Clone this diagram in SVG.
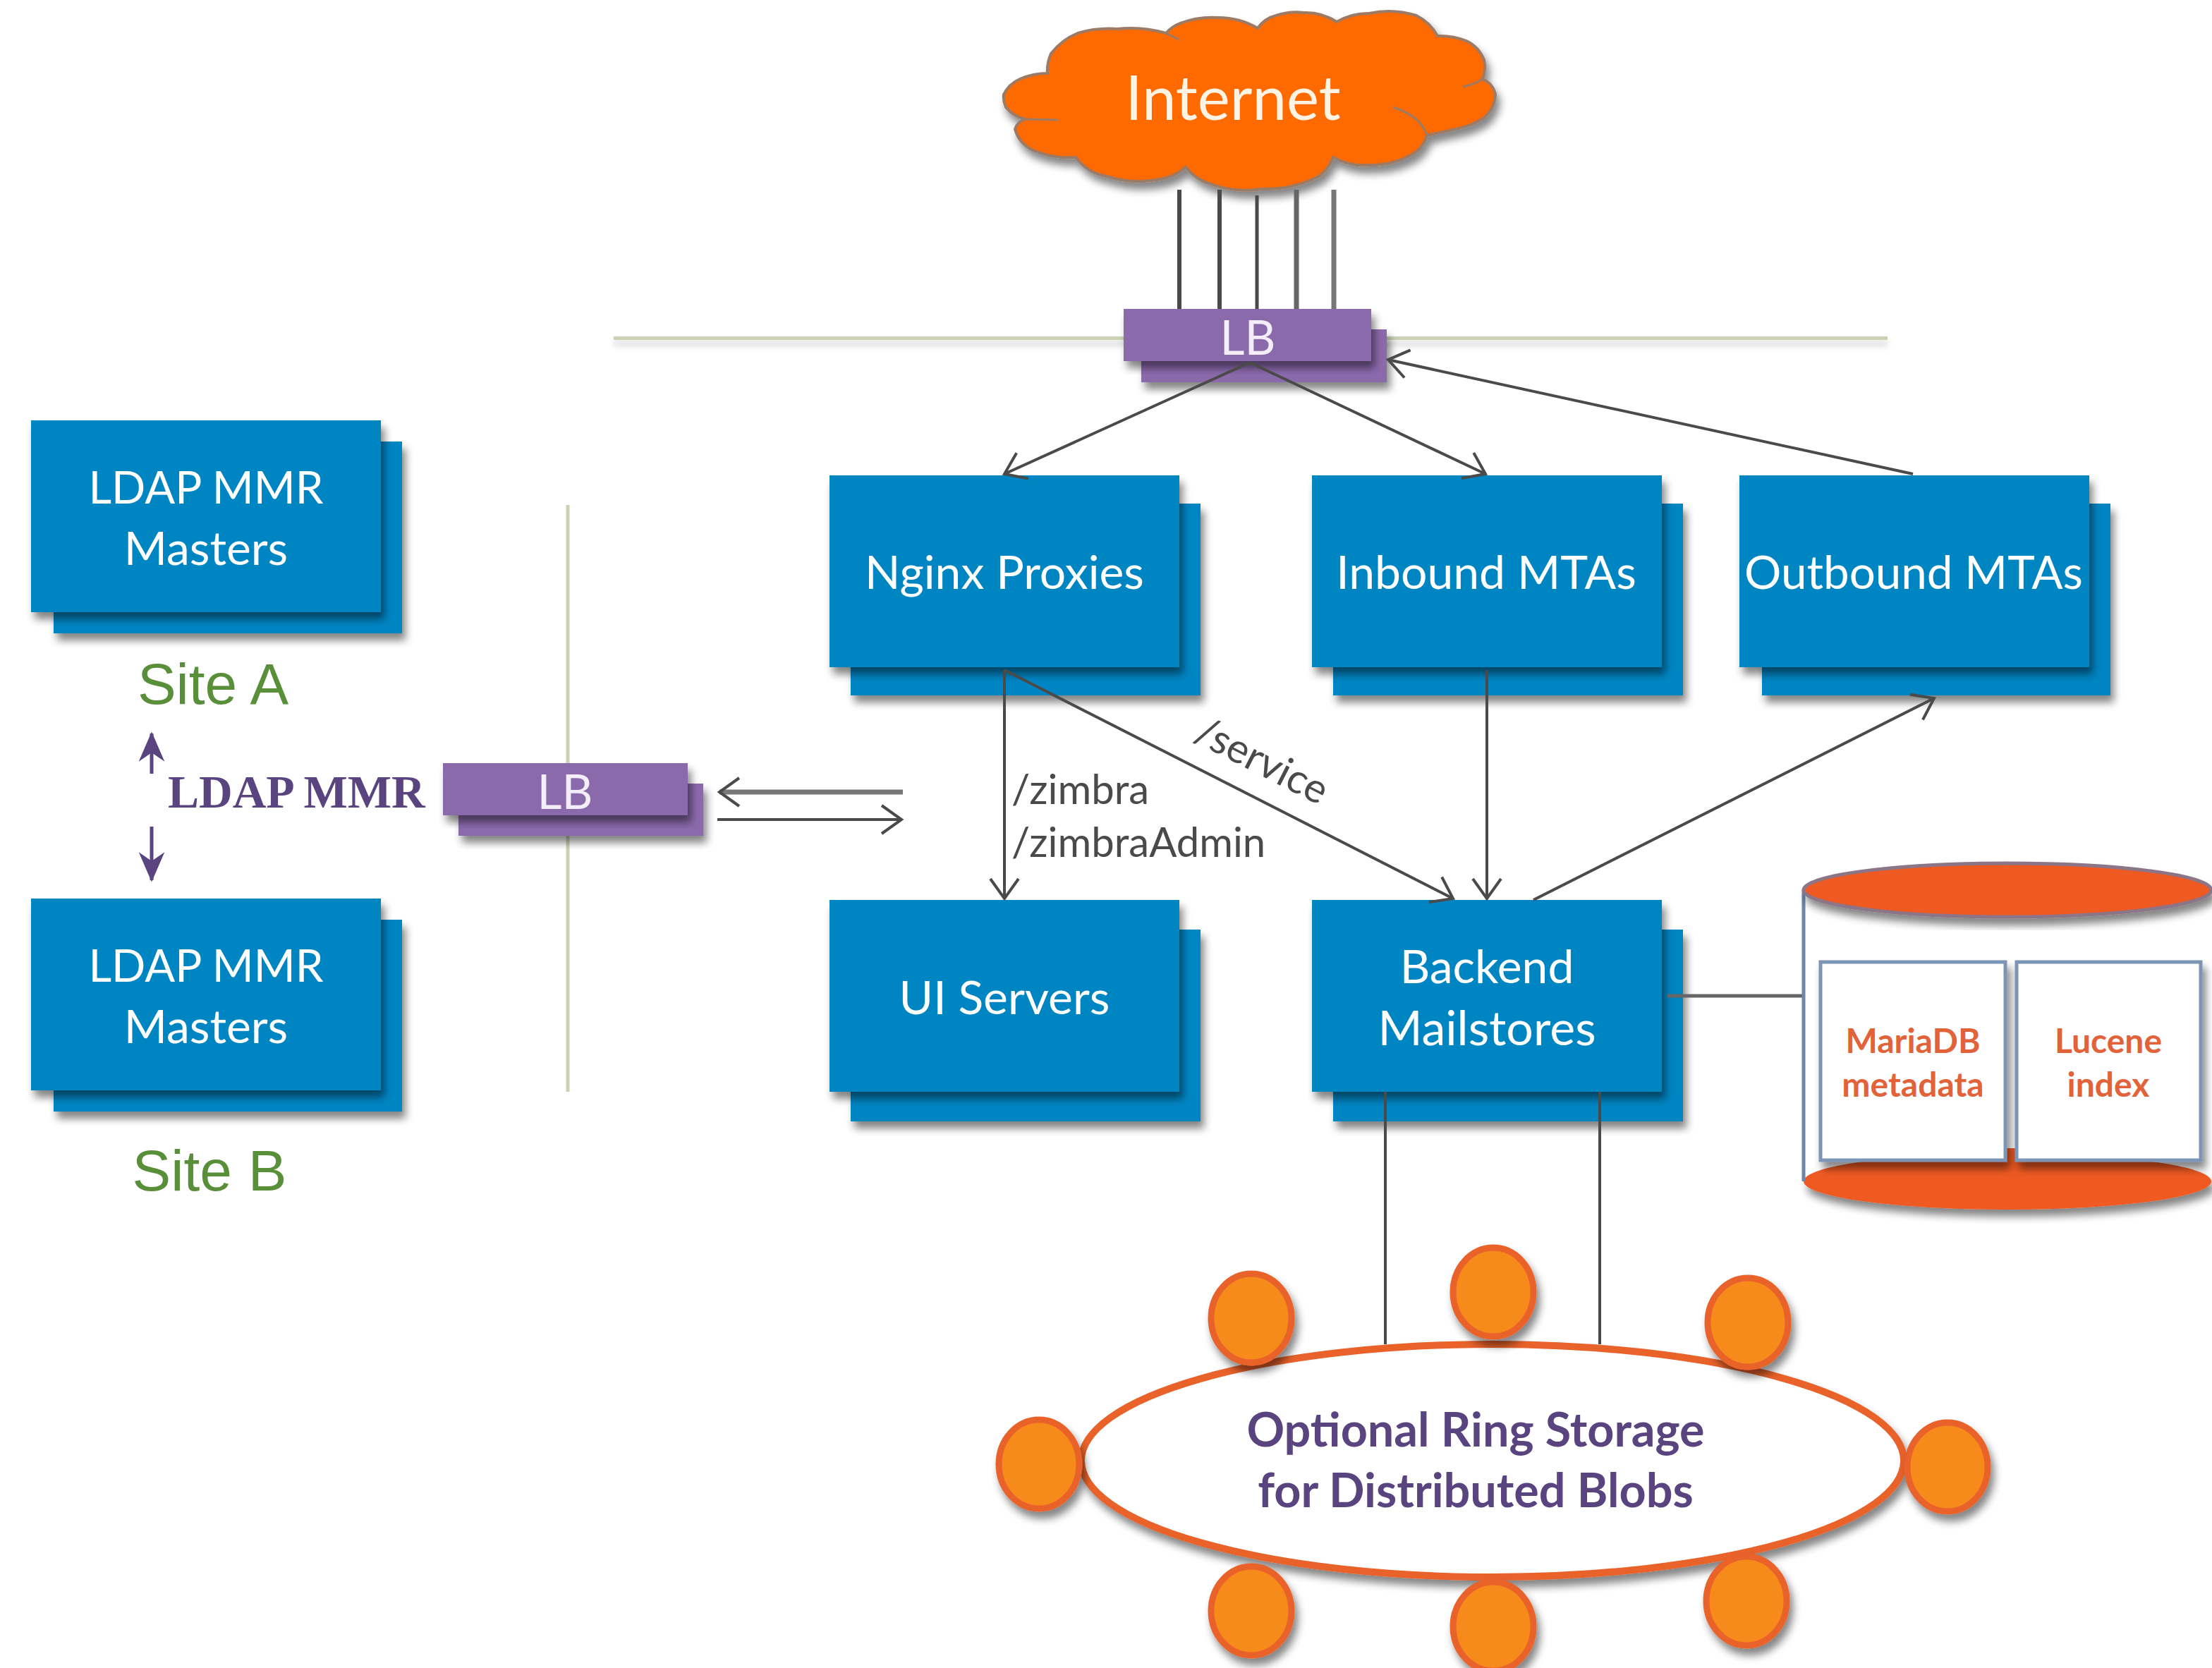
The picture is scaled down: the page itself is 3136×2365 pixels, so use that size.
<svg xmlns="http://www.w3.org/2000/svg" width="3136" height="2365" viewBox="0 0 3136 2365">
<style>
text{font-family:Lato,"Open Sans","Liberation Sans",sans-serif}
.box{fill:#0085c3}
.bt{fill:#fff;font-size:66px;text-anchor:middle}
.lb{fill:#8b6aac}
.lbt{fill:#f4eefa;font-size:68px;text-anchor:middle}
.c{stroke:#4a4a4a;stroke-width:4;fill:none}
.arr{marker-end:url(#a)}
.sm{fill:#f68b1f;stroke:#e8622a;stroke-width:9}
.site{font-family:"Liberation Sans",Arial,sans-serif;font-size:82px;fill:#5a8f3a;text-anchor:middle}
.lab{fill:#4a4a4a;font-size:58px}
.db{fill:#e2623a;font-size:48px;font-weight:700;text-anchor:middle}
.ring{fill:#59447f;font-size:66.5px;font-weight:700;text-anchor:middle}
.cell{fill:#fff;stroke:#7b94b5;stroke-width:5}
</style>
<defs>
<filter id="s" x="-15%" y="-15%" width="130%" height="140%"><feDropShadow dx="5" dy="10" stdDeviation="6" flood-color="#000" flood-opacity=".48"/></filter>
<filter id="b" x="-5%" y="-300%" width="110%" height="700%"><feGaussianBlur stdDeviation="4"/></filter>
<marker id="a" markerUnits="userSpaceOnUse" markerWidth="44" markerHeight="50" refX="40" refY="25" orient="auto"><path d="M12 5L40 25L12 45" fill="none" stroke="#4a4a4a" stroke-width="4"/></marker>
<marker id="p" markerUnits="userSpaceOnUse" markerWidth="44" markerHeight="50" refX="40" refY="25" orient="auto"><path d="M3 9L40 25L3 41L14 25Z" fill="#59447f" stroke="#59447f" stroke-width="2"/></marker>
</defs>

<rect x="870" y="483" width="1806" height="8" fill="#000" opacity=".13" filter="url(#b)"/>
<rect x="870" y="477" width="1806" height="5" fill="#c9d3b4"/>
<rect x="802.500" y="716" width="5" height="832" fill="#c9d3b4"/>

<g id="internet">
<path filter="url(#s)" fill="#ff6a00" stroke="#9b7a66" stroke-width="4" d="M1426 152A34 34 0 0 1 1423 134A46 46 0 0 1 1446 112A100 100 0 0 1 1485 104A60 60 0 0 1 1490 76A90 90 0 0 1 1528 47A160 160 0 0 1 1584 41A180 180 0 0 1 1653 47A50 50 0 0 1 1673 33A130 130 0 0 1 1727 25A110 110 0 0 1 1783 40A45 45 0 0 1 1809 22A90 90 0 0 1 1849 18A80 80 0 0 1 1895 31A90 90 0 0 1 1941 19A130 130 0 0 1 2008 22A70 70 0 0 1 2038 51A100 100 0 0 1 2079 58A50 50 0 0 1 2104 85A50 50 0 0 1 2102 112A30 30 0 0 1 2120 134A48 48 0 0 1 2104 167A110 110 0 0 1 2064 183L2023 192A45 45 0 0 1 2002 219A120 120 0 0 1 1941 234A90 90 0 0 1 1890 223A60 60 0 0 1 1870 250A170 170 0 0 1 1788 268A140 140 0 0 1 1717 261A70 70 0 0 1 1681 237A70 70 0 0 1 1645 254A150 150 0 0 1 1569 250A70 70 0 0 1 1525 223A130 130 0 0 1 1467 214A45 45 0 0 1 1439 183A20 20 0 0 1 1454 169A50 50 0 0 1 1426 152Z"/>
<path fill="none" stroke="#9b7a66" stroke-width="3" d="M1454 169L1500 170M1975 152Q2015 165 2023 192M2074 123Q2090 120 2102 112M1653 47L1671 56"/>
<text x="1748" y="170" fill="#fff4e4" font-size="87" text-anchor="middle">Internet</text>
</g>

<g id="connectors">
<g class="c"><line x1="1672" y1="269" x2="1672" y2="440" stroke-width="6"/><line x1="1729" y1="269" x2="1729" y2="440" stroke-width="6"/><line x1="1782" y1="277" x2="1782" y2="440" stroke-width="5"/><line x1="1838" y1="269" x2="1838" y2="440" stroke="#666" stroke-width="7"/><line x1="1891" y1="269" x2="1891" y2="440" stroke="#777" stroke-width="7"/></g>
</g>

<g id="lb-top" >
<rect class="lb" x="1618" y="467" width="348" height="75" filter="url(#s)"/>
<rect class="lb" x="1593" y="438" width="351" height="74" filter="url(#s)"/>
<text class="lbt" x="1769" y="503">LB</text>
</g>

<g id="lb-ldap">
<rect class="lb" x="650" y="1111" width="347" height="74" filter="url(#s)"/>
<rect class="lb" x="628" y="1082" width="347" height="74" filter="url(#s)"/>
<text class="lbt" x="801" y="1147">LB</text>
</g>

<g id="ldap-a"><rect class="box" x="76" y="626" width="494" height="272" filter="url(#s)"/><rect class="box" x="44" y="596" width="496" height="272" filter="url(#s)"/><text class="bt" x="292" y="714" style="font-size:63.500px">LDAP MMR</text><text class="bt" x="292" y="801">Masters</text></g>
<g id="ldap-b"><rect class="box" x="76" y="1304" width="494" height="272" filter="url(#s)"/><rect class="box" x="44" y="1274" width="496" height="272" filter="url(#s)"/><text class="bt" x="292" y="1392" style="font-size:63.500px">LDAP MMR</text><text class="bt" x="292" y="1479">Masters</text></g>
<g id="nginx"><rect class="box" x="1206" y="714" width="496" height="272" filter="url(#s)"/><rect class="box" x="1176" y="674" width="496" height="272" filter="url(#s)"/><text class="bt" x="1424" y="835">Nginx Proxies</text></g>
<g id="inbound"><rect class="box" x="1890" y="714" width="496" height="272" filter="url(#s)"/><rect class="box" x="1860" y="674" width="496" height="272" filter="url(#s)"/><text class="bt" x="2107" y="835">Inbound MTAs</text></g>
<g id="outbound"><rect class="box" x="2498" y="714" width="494" height="272" filter="url(#s)"/><rect class="box" x="2466" y="674" width="496" height="272" filter="url(#s)"/><text class="bt" x="2713" y="835" style="font-size:65.500px">Outbound MTAs</text></g>
<g id="ui"><rect class="box" x="1206" y="1318" width="496" height="272" filter="url(#s)"/><rect class="box" x="1176" y="1276" width="496" height="272" filter="url(#s)"/><text class="bt" x="1424" y="1438">UI Servers</text></g>
<g id="backend"><rect class="box" x="1890" y="1318" width="496" height="272" filter="url(#s)"/><rect class="box" x="1860" y="1276" width="496" height="272" filter="url(#s)"/><text class="bt" x="2108" y="1394">Backend</text><text class="bt" x="2108" y="1482" style="font-size:68px">Mailstores</text></g>

<g id="connectors-2" class="c">
<line class="arr" x1="1772" y1="514" x2="1424" y2="672"/>
<line class="arr" x1="1772" y1="514" x2="2106" y2="672"/>
<line class="arr" x1="2712" y1="672" x2="1968" y2="510"/>
<line class="arr" x1="1424" y1="950" x2="1424" y2="1274"/>
<line class="arr" x1="1424" y1="950" x2="2060" y2="1274"/>
<line class="arr" x1="2108" y1="950" x2="2108" y2="1274"/>
<line class="arr" x1="2174" y1="1276" x2="2742" y2="990"/>
<line class="arr" x1="1280" y1="1123" x2="1020" y2="1123" stroke="#777" stroke-width="7"/>
<line class="arr" x1="1017" y1="1162" x2="1278" y2="1162"/>
<line x1="2364" y1="1412" x2="2557" y2="1412" stroke="#666" stroke-width="5"/>
<line x1="1964" y1="1548" x2="1964" y2="1906"/>
<line x1="2268" y1="1548" x2="2268" y2="1906"/>
<line x1="215" y1="1097" x2="215" y2="1040" stroke="#59447f" stroke-width="5" marker-end="url(#p)"/>
<line x1="215" y1="1172" x2="215" y2="1248" stroke="#59447f" stroke-width="5" marker-end="url(#p)"/>
</g>

<text class="lab" x="1434" y="1140">/zimbra</text>
<text class="lab" x="1434" y="1215">/zimbraAdmin</text>
<text class="lab" transform="translate(1690 1050) rotate(27)">/service</text>

<text x="238" y="1145" fill="#59447f" font-size="66" font-weight="700" style="font-family:'Liberation Serif',serif">LDAP MMR</text>
<text class="site" x="302" y="998">Site A</text>
<text class="site" x="297" y="1688">Site B</text>

<g id="cylinder">
<rect x="2557" y="1262" width="579" height="413" fill="#fff"/>
<ellipse cx="2846" cy="1675" rx="289" ry="40" fill="#ef5a22" filter="url(#s)"/>
<line x1="2557" y1="1262" x2="2557" y2="1675" stroke="#6f86a8" stroke-width="5"/>
<ellipse cx="2846" cy="1262" rx="289" ry="38" fill="#ef5a22" stroke="#8c7486" stroke-width="5" filter="url(#s)"/>
<path d="M2843 1628h16v30h-16z" fill="#ef5a22"/>
<rect class="cell" x="2581" y="1364" width="262" height="281" filter="url(#s)"/>
<rect class="cell" x="2859" y="1364" width="261" height="281" filter="url(#s)"/>
<text class="db" x="2712" y="1493">MariaDB</text><text class="db" x="2712" y="1555">metadata</text>
<text class="db" x="2989" y="1493">Lucene</text><text class="db" x="2989" y="1555">index</text>
</g>

<g id="ring">
<ellipse cx="2116" cy="2071" rx="583" ry="165" fill="#fff" stroke="#e8622a" stroke-width="10" filter="url(#s)"/>
<g filter="url(#s)">
<ellipse class="sm" cx="1774" cy="1869" rx="57" ry="63"/><ellipse class="sm" cx="2117" cy="1832" rx="57" ry="63"/><ellipse class="sm" cx="2478" cy="1875" rx="57" ry="63"/><ellipse class="sm" cx="1473" cy="2076" rx="57" ry="63"/><ellipse class="sm" cx="2761" cy="2080" rx="57" ry="63"/><ellipse class="sm" cx="1774" cy="2284" rx="57" ry="63"/><ellipse class="sm" cx="2117" cy="2306" rx="57" ry="63"/><ellipse class="sm" cx="2476" cy="2270" rx="57" ry="63"/>
</g>
<text class="ring" x="2092" y="2051">Optional Ring Storage</text>
<text class="ring" x="2092" y="2137">for Distributed Blobs</text>
</g>
</svg>
